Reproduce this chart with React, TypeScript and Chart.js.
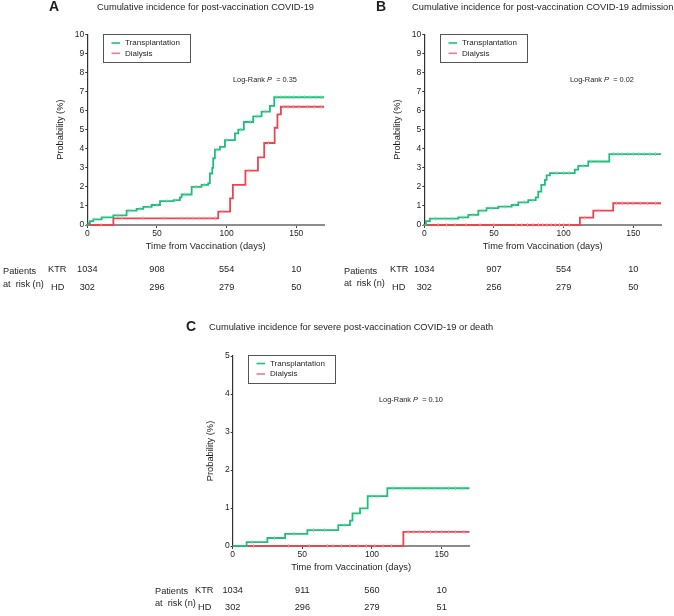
import React, { useEffect, useRef } from 'react';
import { Chart, registerables } from 'chart.js';

Chart.register(...registerables);

const FONT = '"Liberation Sans", Arial, Helvetica, sans-serif';
const GREEN = '#1fbf7b';
const RED = '#ea4652';
const GREEN_MARK = '#7ad6a8';
const RED_MARK = '#f29aa2';
const TEXT = '#1e1e1e';

// ---------- data ----------
const xTickValues = [0, 50, 100, 150];
const riskDays = [0, 50, 100, 150];
const seriesNames = ['Transplantation', 'Dialysis'];

// Panel A: post-vaccination COVID-19
const aKtrDays = [0, 0.7, 1.9, 4.3, 10.3, 18.7, 28.2, 35.4, 40.2, 46.2, 52.2, 62, 66.5, 67.7, 74.9, 82, 86.8, 88, 89.7, 90.4, 91.6, 95.2, 98.8, 106, 108.4, 112.4, 119.1, 125.1, 131.1, 134.2, 170];
const aKtrPct = [0, 0.1, 0.2, 0.3, 0.4, 0.5, 0.75, 0.85, 0.95, 1.05, 1.25, 1.3, 1.45, 1.6, 2.0, 2.1, 2.2, 2.7, 3.0, 3.5, 3.95, 4.1, 4.45, 4.8, 5.0, 5.4, 5.7, 5.95, 6.25, 6.7, 6.7];
const aHdDays = [0, 18.7, 94, 102.5, 104.5, 113.5, 122.5, 127, 134.5, 136.5, 139, 170];
const aHdPct = [0, 0.35, 0.7, 1.4, 2.1, 2.85, 3.55, 4.3, 5.1, 5.8, 6.2, 6.2];
const aKtrCensor = [5, 12, 22, 30, 38, 45, 50, 57, 63, 70, 78, 84, 93, 100, 110, 117, 122, 128, 136, 139, 142, 145, 148, 152, 156, 160, 164, 168];
const aHdCensor = [10, 25, 40, 55, 68, 72, 76, 80, 84, 88, 92, 97, 116, 130, 141, 144, 148, 152, 158, 163, 168];
const aRiskKtr = [1034, 908, 554, 10];
const aRiskHd = [302, 296, 279, 50];

// Panel B: post-vaccination COVID-19 admission
const bKtrDays = [0, 1.2, 4, 24.4, 31.6, 38.8, 44.7, 53.1, 62.7, 67.5, 74.6, 80, 81.8, 84, 86.6, 87.8, 90.2, 108, 110.5, 117.7, 132.8, 170];
const bKtrPct = [0, 0.2, 0.33, 0.4, 0.53, 0.75, 0.88, 0.96, 1.05, 1.19, 1.3, 1.45, 1.75, 2.1, 2.37, 2.6, 2.72, 2.9, 3.1, 3.33, 3.72, 3.72];
const bHdDays = [0, 111.7, 121.3, 135.6, 170];
const bHdPct = [0, 0.39, 0.75, 1.14, 1.14];
const bKtrCensor = [8, 15, 20, 28, 35, 42, 48, 58, 65, 72, 78, 95, 100, 104, 114, 120, 126, 136, 139, 142, 146, 150, 154, 158, 162, 166];
const bHdCensor = [10, 16, 22, 30, 40, 50, 66, 70, 74, 78, 82, 85, 88, 91, 94, 97, 100, 104, 115, 125, 138, 142, 146, 150, 155, 160, 166];
const bRiskKtr = [1034, 907, 554, 10];
const bRiskHd = [302, 256, 279, 50];

// Panel C: severe post-vaccination COVID-19 or death
const cKtrDays = [0, 10, 24.9, 37.6, 53.6, 75.8, 84.2, 86, 91.4, 96.9, 111, 170];
const cKtrPct = [0, 0.1, 0.21, 0.32, 0.42, 0.55, 0.67, 0.86, 0.99, 1.31, 1.52, 1.52];
const cHdDays = [0, 122.5, 170];
const cHdPct = [0, 0.37, 0.37];
const cKtrCensor = [14, 30, 44, 58, 66, 80, 100, 104, 115, 122, 128, 135, 140, 145, 150, 155, 160, 165];
const cHdCensor = [15, 40, 55, 68, 72, 78, 84, 90, 96, 102, 108, 114, 126, 130, 134, 138, 142, 146, 150, 155, 160, 166];
const cRiskKtr = [1034, 911, 560, 10];
const cRiskHd = [302, 296, 279, 51];

// ---------- layout config ----------
type PanelCfg = {
  left: number; top: number; width: number; height: number;
  pad: { left: number; right: number; top: number; bottom: number };
  yMax: number;
  letter: string; letterX: number; letterY: number;
  title: string; titleX: number; titleY: number;
  legend: { x: number; y: number; w: number; h: number; lineX: number; textX: number; row1: number; row2: number };
  logP: string; logX: number; logY: number;
  yTitleX: number; xTitleY: number;
  table: { patX: number; patY1: number; patY2: number; ktrX: number; ktrY: number; hdX: number; hdY: number; ktr: number[]; hd: number[] };
  ktrDays: number[]; ktrPct: number[]; hdDays: number[]; hdPct: number[];
  ktrCensor: number[]; hdCensor: number[];
};

const Y_SCALE_W = 40;
const X_SCALE_H = 30;

const panels: PanelCfg[] = [
  {
    left: 0, top: 0, width: 337, height: 300,
    pad: { left: 87.3 - Y_SCALE_W, right: 337 - 324.1, top: 34.3, bottom: 300 - 225 - X_SCALE_H },
    yMax: 10,
    letter: 'A', letterX: 54, letterY: 7,
    title: 'Cumulative incidence for post-vaccination COVID-19', titleX: 97, titleY: 7,
    legend: { x: 103, y: 34, w: 87, h: 28, lineX: 111.5, textX: 125, row1: 43, row2: 53.3 },
    logP: '0.35', logX: 233, logY: 80,
    yTitleX: 60, xTitleY: 246.5,
    table: { patX: 3, patY1: 271, patY2: 284, ktrX: 48, ktrY: 269, hdX: 51, hdY: 287, ktr: aRiskKtr, hd: aRiskHd },
    ktrDays: aKtrDays, ktrPct: aKtrPct, hdDays: aHdDays, hdPct: aHdPct,
    ktrCensor: aKtrCensor, hdCensor: aHdCensor,
  },
  {
    left: 337, top: 0, width: 337, height: 300,
    pad: { left: 87.3 - Y_SCALE_W, right: 337 - 324.1, top: 34.3, bottom: 300 - 225 - X_SCALE_H },
    yMax: 10,
    letter: 'B', letterX: 44, letterY: 7,
    title: 'Cumulative incidence for post-vaccination COVID-19 admission', titleX: 75, titleY: 7,
    legend: { x: 103, y: 34, w: 87, h: 28, lineX: 111.5, textX: 125, row1: 43, row2: 53.3 },
    logP: '0.02', logX: 233, logY: 80,
    yTitleX: 60, xTitleY: 246.5,
    table: { patX: 7, patY1: 271, patY2: 283, ktrX: 53, ktrY: 269, hdX: 55, hdY: 287, ktr: bRiskKtr, hd: bRiskHd },
    ktrDays: bKtrDays, ktrPct: bKtrPct, hdDays: bHdDays, hdPct: bHdPct,
    ktrCensor: bKtrCensor, hdCensor: bHdCensor,
  },
  {
    left: 0, top: 300, width: 674, height: 316,
    pad: { left: 232.7 - Y_SCALE_W, right: 674 - 469.5, top: 56, bottom: 316 - 246 - X_SCALE_H },
    yMax: 5,
    letter: 'C', letterX: 191, letterY: 27,
    title: 'Cumulative incidence for severe post-vaccination COVID-19 or death', titleX: 209, titleY: 27,
    legend: { x: 248, y: 55, w: 87, h: 27.5, lineX: 256.5, textX: 270, row1: 63.5, row2: 74 },
    logP: '0.10', logX: 379, logY: 100,
    yTitleX: 210, xTitleY: 267,
    table: { patX: 155, patY1: 291, patY2: 303, ktrX: 195, ktrY: 290, hdX: 198, hdY: 307, ktr: cRiskKtr, hd: cRiskHd },
    ktrDays: cKtrDays, ktrPct: cKtrPct, hdDays: cHdDays, hdPct: cHdPct,
    ktrCensor: cKtrCensor, hdCensor: cHdCensor,
  },
];

function toPoints(days: number[], pct: number[]) {
  return days.map((d, i) => ({ x: d, y: pct[i] }));
}

// censor marks sit on the step curve at their time
function censorPoints(censor: number[], days: number[], pct: number[]) {
  return censor.map((c) => {
    let v = pct[0];
    for (let i = 0; i < days.length; i++) if (days[i] <= c) v = pct[i];
    return { x: c, y: v };
  });
}

function drawAnnotations(chart: any, p: PanelCfg) {
  const ctx: CanvasRenderingContext2D = chart.ctx;
  const area = chart.chartArea;
  const xs = chart.scales.x;
  ctx.save();
  ctx.fillStyle = TEXT;
  ctx.textBaseline = 'middle';

  // panel letter + title
  ctx.font = `bold 14px ${FONT}`;
  ctx.textAlign = 'center';
  ctx.fillText(p.letter, p.letterX, p.letterY);
  ctx.font = `9.3px ${FONT}`;
  ctx.textAlign = 'left';
  ctx.fillText(p.title, p.titleX, p.titleY);

  // legend box
  const L = p.legend;
  ctx.fillStyle = '#ffffff';
  ctx.fillRect(L.x, L.y, L.w, L.h);
  ctx.strokeStyle = '#555555';
  ctx.lineWidth = 1;
  ctx.strokeRect(Math.round(L.x) + 0.5, Math.round(L.y) + 0.5, Math.round(L.w), Math.round(L.h));
  ctx.lineWidth = 1.6;
  ctx.strokeStyle = GREEN;
  ctx.beginPath(); ctx.moveTo(L.lineX, L.row1); ctx.lineTo(L.lineX + 8.5, L.row1); ctx.stroke();
  ctx.strokeStyle = '#ef7c86';
  ctx.beginPath(); ctx.moveTo(L.lineX, L.row2); ctx.lineTo(L.lineX + 8.5, L.row2); ctx.stroke();
  ctx.fillStyle = TEXT;
  ctx.font = `8px ${FONT}`;
  ctx.fillText(seriesNames[0], L.textX, L.row1);
  ctx.fillText(seriesNames[1], L.textX, L.row2);

  // log-rank
  ctx.font = `7.4px ${FONT}`;
  let x = p.logX;
  const part1 = 'Log-Rank ';
  ctx.fillText(part1, x, p.logY);
  x += ctx.measureText(part1).width;
  ctx.font = `italic 7.4px ${FONT}`;
  ctx.fillText('P', x, p.logY);
  x += ctx.measureText('P').width;
  ctx.font = `7.4px ${FONT}`;
  ctx.fillText('  = ' + p.logP, x, p.logY);

  // axis titles
  ctx.font = `9.3px ${FONT}`;
  ctx.save();
  ctx.translate(p.yTitleX, (area.top + area.bottom) / 2);
  ctx.rotate(-Math.PI / 2);
  ctx.textAlign = 'center';
  ctx.fillText('Probability (%)', 0, 0);
  ctx.restore();
  ctx.textAlign = 'center';
  ctx.fillText('Time from Vaccination (days)', (area.left + area.right) / 2, p.xTitleY);

  // at-risk table
  const T = p.table;
  ctx.font = `9.2px ${FONT}`;
  ctx.textAlign = 'left';
  ctx.fillText('Patients', T.patX, T.patY1);
  ctx.fillText('at  risk (n)', T.patX, T.patY2);
  ctx.fillText('KTR', T.ktrX, T.ktrY);
  ctx.fillText('HD', T.hdX, T.hdY);
  ctx.textAlign = 'center';
  riskDays.forEach((d, i) => {
    const px = xs.getPixelForValue(d);
    ctx.fillText(String(T.ktr[i]), px, T.ktrY);
    ctx.fillText(String(T.hd[i]), px, T.hdY);
  });
  ctx.restore();
}

function Panel({ cfg }: { cfg: PanelCfg }) {
  const ref = useRef<HTMLCanvasElement | null>(null);
  useEffect(() => {
    if (!ref.current) return;
    const annot = {
      id: 'annot' + cfg.letter,
      afterDraw(chart: any) { drawAnnotations(chart, cfg); },
    };
    const markStyle = {
      showLine: false,
      pointStyle: 'line',
      pointRotation: 90,
      pointRadius: 1.8,
      pointBorderWidth: 1,
      clip: 6,
    };
    const chart = new Chart(ref.current, {
      type: 'line',
      data: {
        datasets: [
          {
            label: seriesNames[0] + ' censored',
            data: censorPoints(cfg.ktrCensor, cfg.ktrDays, cfg.ktrPct),
            borderColor: GREEN_MARK,
            pointBorderColor: GREEN_MARK,
            ...markStyle,
          },
          {
            label: seriesNames[0],
            data: toPoints(cfg.ktrDays, cfg.ktrPct),
            borderColor: GREEN,
            borderWidth: 1.8,
            pointRadius: 0,
            stepped: true,
            fill: false,
            clip: 6,
          },
          {
            label: seriesNames[1] + ' censored',
            data: censorPoints(cfg.hdCensor, cfg.hdDays, cfg.hdPct),
            borderColor: RED_MARK,
            pointBorderColor: RED_MARK,
            ...markStyle,
          },
          {
            label: seriesNames[1],
            data: toPoints(cfg.hdDays, cfg.hdPct),
            borderColor: RED,
            borderWidth: 1.8,
            pointRadius: 0,
            stepped: true,
            fill: false,
            clip: 6,
          },
        ],
      },
      options: {
        responsive: false,
        maintainAspectRatio: false,
        animation: false,
        events: [],
        layout: { padding: cfg.pad },
        plugins: { legend: { display: false }, tooltip: { enabled: false }, title: { display: false } },
        scales: {
          x: {
            type: 'linear',
            min: 0,
            max: 170,
            afterBuildTicks: (s: any) => { s.ticks = xTickValues.map((v) => ({ value: v })); },
            afterFit: (s: any) => { s.height = X_SCALE_H; },
            grid: { display: true, drawOnChartArea: false, drawTicks: true, tickLength: 3, color: '#444', lineWidth: 1 },
            border: { display: true, color: '#8c8c8c', width: 2 },
            ticks: { font: { family: FONT, size: 8.5 }, color: TEXT, padding: 1, maxRotation: 0, autoSkip: false },
          },
          y: {
            type: 'linear',
            min: 0,
            max: cfg.yMax,
            afterFit: (s: any) => { s.width = Y_SCALE_W; },
            grid: { display: true, drawOnChartArea: false, drawTicks: true, tickLength: 2, color: '#333', lineWidth: 1 },
            border: { display: true, color: '#333333', width: 1.2 },
            ticks: { stepSize: 1, font: { family: FONT, size: 8.5 }, color: TEXT, padding: 1, autoSkip: false },
          },
        },
      },
      plugins: [annot],
    } as any);
    return () => chart.destroy();
  }, [cfg]);
  return (
    <canvas
      ref={ref}
      width={cfg.width}
      height={cfg.height}
      style={{ position: 'absolute', left: cfg.left, top: cfg.top, width: cfg.width, height: cfg.height }}
    />
  );
}

export default function App() {
  return (
    <div style={{ position: 'fixed', left: 0, top: 0, width: 674, height: 616, background: '#ffffff', overflow: 'hidden' }}>
      {panels.map((p) => (
        <Panel key={p.letter} cfg={p} />
      ))}
    </div>
  );
}
